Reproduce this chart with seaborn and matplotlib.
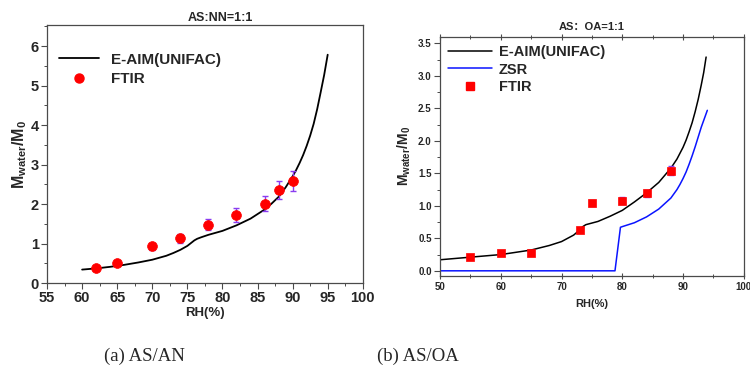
import matplotlib
matplotlib.use("Agg")
import matplotlib.pyplot as plt
import seaborn as sns
import pandas as pd
from matplotlib.ticker import MultipleLocator, FormatStrFormatter
from matplotlib.lines import Line2D

# ---------------- data ----------------
# (a) AS/AN
a_model_rh = [60, 62, 64, 66, 68, 70, 72, 73, 74, 75, 75.5, 76, 76.4, 77, 78, 80, 82, 84, 86, 87, 88,
              89, 90, 90.5, 91, 91.5, 92, 92.5, 93, 93.5, 94, 94.5, 95]
a_model_m = [0.34, 0.37, 0.41, 0.46, 0.52, 0.59, 0.69, 0.76, 0.84, 0.94, 1.01, 1.08, 1.12, 1.16, 1.22,
             1.32, 1.46, 1.63, 1.86, 2.01, 2.18, 2.42, 2.70, 2.86, 3.04, 3.24, 3.47, 3.73, 4.03, 4.40,
             4.83, 5.27, 5.78]
a_ftir_rh = [62, 65, 70, 74, 78, 82, 86, 88, 90]
a_ftir_m = [0.37, 0.50, 0.93, 1.13, 1.48, 1.72, 2.01, 2.36, 2.58]
a_ftir_err = [0.03, 0.04, 0.09, 0.11, 0.15, 0.18, 0.19, 0.23, 0.26]

# (b) AS/OA
b_model_rh = [50, 55, 60, 65, 68, 70, 72, 73, 73.5, 74, 76, 78, 80, 82, 84, 86, 88, 89, 90, 90.5,
              91, 91.5, 92, 92.5, 93, 93.4, 93.8]
b_model_m = [0.17, 0.21, 0.25, 0.32, 0.39, 0.45, 0.55, 0.63, 0.68, 0.71, 0.76, 0.84, 0.93, 1.06,
             1.20, 1.36, 1.58, 1.72, 1.90, 2.01, 2.14, 2.28, 2.45, 2.64, 2.86, 3.05, 3.29]
b_zsr_rh = [50, 55, 60, 65, 70, 75, 78.8, 79.7, 80, 82, 84, 86, 88, 89, 89.5, 90, 90.5, 91, 91.5,
            92, 92.5, 93, 93.5, 94]
b_zsr_m = [0, 0, 0, 0, 0, 0, 0, 0.67, 0.68, 0.74, 0.83, 0.95, 1.12, 1.25, 1.33, 1.42, 1.52, 1.64,
           1.77, 1.91, 2.06, 2.21, 2.34, 2.47]
b_ftir_rh = [55, 60, 65, 73, 75, 80, 84, 88]
b_ftir_m = [0.21, 0.27, 0.27, 0.63, 1.04, 1.08, 1.19, 1.54]
b_ftir_err = [0.02, 0.02, 0.02, 0.03, 0.05, 0.05, 0.05, 0.07]

titles = ["AS:NN=1:1", "AS：OA=1:1"]
captions = ["(a) AS/AN", "(b) AS/OA"]

# ---------------- style ----------------
sns.set_style("white")
plt.rcParams["font.family"] = ["Liberation Sans", "Noto Sans CJK SC", "DejaVu Sans"]
plt.rcParams["mathtext.fontset"] = "custom"
plt.rcParams["mathtext.rm"] = "Liberation Sans:bold"
plt.rcParams["mathtext.it"] = "Liberation Sans:bold"
plt.rcParams["mathtext.bf"] = "Liberation Sans:bold"

spine_c = "#4a4a4a"
err_c = "#8a3cf0"

fig = plt.figure(figsize=(7.5, 3.69), dpi=100)
ax1 = fig.add_axes([0.0627, 0.233, 0.421, 0.699])
ax2 = fig.add_axes([0.5867, 0.252, 0.405, 0.648])

def style_axes(ax, lsize):
    for s in ax.spines.values():
        s.set_color(spine_c)
        s.set_linewidth(0.9)
    ax.tick_params(axis="both", which="both", bottom=True, left=True, top=False, right=False)
    ax.tick_params(axis="both", which="major", direction="out", length=4, width=0.8,
                   color=spine_c, labelsize=lsize, pad=2)
    ax.tick_params(axis="both", which="minor", direction="out", length=2.5, width=0.7,
                   color=spine_c)
    for lab in ax.get_xticklabels() + ax.get_yticklabels():
        lab.set_fontweight("bold")

# ---- panel (a)
da = pd.DataFrame({"rh": a_model_rh, "m": a_model_m})
dfa = pd.DataFrame({"rh": a_ftir_rh, "m": a_ftir_m})
sns.lineplot(data=da, x="rh", y="m", ax=ax1, color="black", linewidth=1.3)
ax1.errorbar(a_ftir_rh, a_ftir_m, yerr=a_ftir_err, fmt="none", ecolor=err_c, elinewidth=1.0,
             capsize=2.5, capthick=1.0, zorder=3)
sns.scatterplot(data=dfa, x="rh", y="m", ax=ax1, color="#ff0000", s=50, marker="o",
                edgecolor="#ff0000", linewidth=0.5, zorder=4)
ax1.set_xlim(55, 100)
ax1.set_ylim(0, 6.53)
ax1.xaxis.set_major_locator(MultipleLocator(5))
ax1.xaxis.set_minor_locator(MultipleLocator(2.5))
ax1.yaxis.set_major_locator(MultipleLocator(1))
ax1.yaxis.set_minor_locator(MultipleLocator(0.5))
style_axes(ax1, 10.5)
ax1.set_xlabel(r"RH(%)", fontsize=9.5, fontweight="bold", labelpad=1)
ax1.set_ylabel(r"M$_{water}$/M$_0$", fontsize=11.5, fontweight="bold", labelpad=1)
ax1.set_title(titles[0], fontsize=9, fontweight="bold", x=0.55, pad=3)
h1 = [Line2D([], [], color="black", lw=1.3),
      Line2D([], [], color="#ff0000", marker="o", ls="none", markersize=6.5)]
ax1.legend(h1, ["E-AIM(UNIFAC)", "FTIR"], loc="upper left", frameon=False,
           prop={"weight": "bold", "size": 11}, handlelength=2.6, handletextpad=0.8,
           labelspacing=0.35, borderaxespad=0.4, bbox_to_anchor=(0.0, 0.94))

# ---- panel (b)
db = pd.DataFrame({"rh": b_model_rh, "m": b_model_m})
dz = pd.DataFrame({"rh": b_zsr_rh, "m": b_zsr_m})
dfb = pd.DataFrame({"rh": b_ftir_rh, "m": b_ftir_m})
sns.lineplot(data=db, x="rh", y="m", ax=ax2, color="black", linewidth=1.1)
sns.lineplot(data=dz, x="rh", y="m", ax=ax2, color="#0a14ff", linewidth=1.1)
ax2.errorbar(b_ftir_rh, b_ftir_m, yerr=b_ftir_err, fmt="none", ecolor=err_c, elinewidth=1.0,
             capsize=2.5, capthick=1.0, zorder=3)
sns.scatterplot(data=dfb, x="rh", y="m", ax=ax2, color="#ff0000", s=38, marker="s",
                edgecolor="#ff0000", linewidth=0.5, zorder=4)
ax2.set_xlim(50, 100)
ax2.set_ylim(-0.08, 3.6)
ax2.xaxis.set_major_locator(MultipleLocator(10))
ax2.xaxis.set_minor_locator(MultipleLocator(5))
ax2.yaxis.set_major_locator(MultipleLocator(0.5))
ax2.yaxis.set_minor_locator(MultipleLocator(0.25))
ax2.yaxis.set_major_formatter(FormatStrFormatter("%.1f"))
style_axes(ax2, 7)
ax2.tick_params(axis="x", which="both", top=True, direction="inout")
ax2.set_xlabel(r"RH(%)", fontsize=8, fontweight="bold", labelpad=5)
ax2.set_ylabel(r"M$_{water}$/M$_0$", fontsize=10, fontweight="bold", labelpad=4)
ax2.set_title(titles[1], fontsize=8, fontweight="bold", pad=5)
h2 = [Line2D([], [], color="black", lw=1.1),
      Line2D([], [], color="#0a14ff", lw=1.1),
      Line2D([], [], color="#ff0000", marker="s", ls="none", markersize=5.5)]
ax2.legend(h2, ["E-AIM(UNIFAC)", "ZSR", "FTIR"], loc="upper left", frameon=False,
           prop={"weight": "bold", "size": 10.5}, handlelength=3.0, handletextpad=0.5,
           labelspacing=0.25, borderaxespad=0.15)

# captions
fig.text(0.193, 0.035, captions[0], ha="center", va="center", fontsize=13.5,
         family="Liberation Serif")
fig.text(0.557, 0.035, captions[1], ha="center", va="center", fontsize=13.5,
         family="Liberation Serif")

fig.savefig("out.png", dpi=100)
